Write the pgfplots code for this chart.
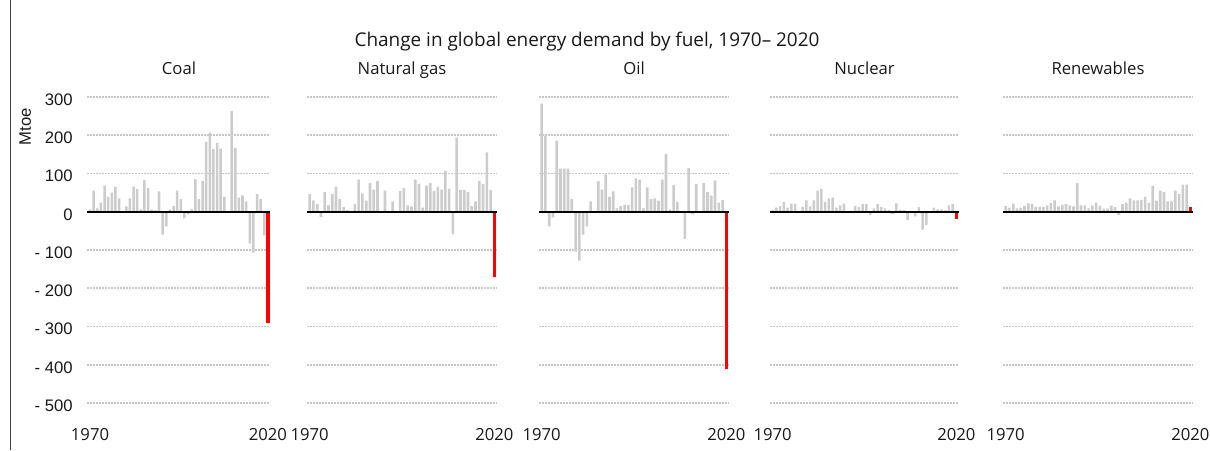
\documentclass[border=0pt]{standalone}
\usepackage{fontspec}
\setmainfont{Open Sans}
\newfontfamily\arialf{Liberation Sans}
\usepackage{pgfplots}
\usepackage{pgfplotstable}
\pgfplotsset{compat=1.18}
\definecolor{barg}{RGB}{204,204,204}
\definecolor{gridg}{RGB}{198,198,198}
\definecolor{txt}{RGB}{25,25,25}

% yearly change in demand, Mtoe
\pgfplotstableread{
year coal gas oil nuclear renew
1971 6 46 283 5 15
1972 55 30 199 11 11
1973 9 20 -38 15 21
1974 24 -14 -15 26 9
1975 68 51 186 11 11
1976 39 17 113 21 15
1977 50 46 113 21 22
1978 66 66 113 0 20
1979 35 33 33 13 13
1980 0 12 -104 30 13
1981 14 5 -128 14 12
1982 35 0 -60 30 16
1983 66 20 -38 55 23
1984 59 84 27 60 30
1985 7 48 2 26 14
1986 83 29 80 35 18
1987 62 75 58 37 20
1988 6 58 98 11 17
1989 4 80 39 17 14
1990 53 -2 53 21 75
1991 -60 55 9 0 17
1992 -38 0 15 3 17
1993 6 27 18 15 9
1994 15 0 18 12 16
1995 55 54 64 20 24
1996 33 62 87 20 16
1997 -17 17 84 -9 8
1998 -7 14 9 9 8
1999 7 84 64 20 16
2000 85 73 33 12 12
2001 33 11 35 9 -9
2002 80 68 29 4 20
2003 183 75 84 -7 24
2004 207 54 151 22 35
2005 164 66 6 5 30
2006 180 58 70 4 30
2007 165 107 26 -21 31
2008 39 60 -3 0 39
2009 0 -59 -71 -12 23
2010 263 194 115 12 67
2011 167 57 -7 -47 29
2012 37 57 73 -34 55
2013 43 51 0 0 51
2014 27 15 75 11 27
2015 -83 27 51 6 27
2016 -107 80 42 6 55
2017 46 73 82 4 46
2018 33 155 24 17 71
2019 -62 57 31 20 71
2020 -290 -170 -410 -20 13
}\energy

\pgfplotsset{
  panel/.style={
    scale only axis, height=229.5pt, anchor=south west,
    xmin=1970.3, xmax=2020.7, ymin=-500, ymax=300,
    ytick={-500,-400,...,300}, yticklabels={},
    xtick={1971,2020}, xticklabels={1970,2020},
    axis line style={draw=none}, tick style={draw=none},
    ymajorgrids, grid style={gridg, line width=1.4pt, dash pattern=on 1.5pt off 0.75pt},
    xticklabel style={font=\fontsize{12.5}{14}\selectfont, text=txt, anchor=base, yshift=-24pt},
    title style={font=\fontsize{12.5}{14}\selectfont, text=txt, at={(0.5,1)}, anchor=base, yshift=11pt},
    clip=false, ybar,
  },
  gbar/.style={fill=barg, draw=none, bar width=0.7, bar shift=0pt},
  rbar/.style={fill=red, draw=none, bar width=0.95, bar shift=0pt},
}
\newcommand{\fuel}[1]{%
  \addplot[gbar] table[x=year, y=#1, restrict x to domain=1970:2019.5]{\energy};
  \addplot[rbar] table[x=year, y=#1, restrict x to domain=2019.5:2020.5]{\energy};
  \draw[black, line width=1.2pt] (axis cs:1970.3,0) -- (axis cs:2020.7,0);
}

\begin{document}
\begin{tikzpicture}
\useasboundingbox (0,0) rectangle (907.5pt,337.5pt);
\draw[black!75, line width=0.75pt] (7.5pt,0) -- (7.5pt,337.5pt);
\node[font=\fontsize{14.2}{16}\selectfont, text=txt, anchor=base] at (440.25pt,302.5pt)
  {Change in global energy demand by fuel, 1970– 2020};
\node[rotate=90, font=\arialf\fontsize{12.5}{14}\selectfont, text=txt] at (19pt,242.6pt) {Mtoe};

\begin{axis}[panel, at={(65.6pt,35.25pt)}, width=137.25pt, title={Coal},
  yticklabels={- 500,- 400,- 300,- 200,- 100,0,100,200,300},
  yticklabel style={font=\arialf\fontsize{12.5}{14}\selectfont, text=txt, anchor=east,
    inner sep=0pt, xshift=-10.9pt, yshift=-2pt}]
\fuel{coal}
\end{axis}

\begin{axis}[panel, at={(230.25pt,35.25pt)}, width=142.5pt, title={Natural gas}]
\fuel{gas}
\end{axis}

\begin{axis}[panel, at={(404.25pt,35.25pt)}, width=142.5pt, title={Oil}]
\fuel{oil}
\end{axis}

\begin{axis}[panel, at={(577.5pt,35.25pt)}, width=141.75pt, title={Nuclear}]
\fuel{nuclear}
\end{axis}

\begin{axis}[panel, at={(752.25pt,35.25pt)}, width=142.5pt, title={Renewables}]
\fuel{renew}
\end{axis}
\end{tikzpicture}
\end{document}
